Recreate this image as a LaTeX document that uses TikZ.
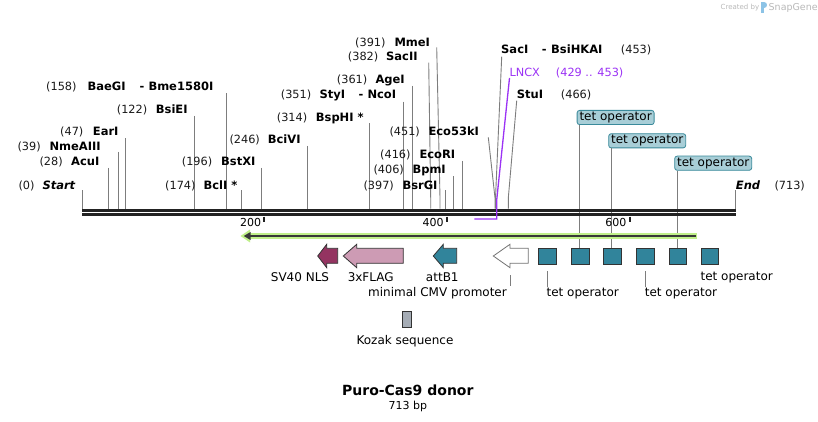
\documentclass[tikz,border=0pt]{standalone}
\usepackage{fontspec}
\setmainfont{DejaVu Sans}
\usetikzlibrary{arrows.meta}
\definecolor{tealf}{RGB}{49,132,155}
\definecolor{nlsf}{RGB}{148,52,97}
\definecolor{flagf}{RGB}{205,155,180}
\definecolor{kozf}{RGB}{165,172,181}
\definecolor{tetbox}{RGB}{168,206,215}
\definecolor{tetedge}{RGB}{58,138,155}
\definecolor{leadc}{RGB}{125,125,125}
\definecolor{bbc}{RGB}{34,34,34}
\definecolor{lgreen}{RGB}{192,240,138}
\definecolor{purp}{RGB}{155,50,245}
\definecolor{logog}{RGB}{185,185,185}
\definecolor{logob}{RGB}{140,195,230}
\newcommand\cutsite[3]{\coordinate (#1t) at (#2,#3); \coordinate (#1b) at (#2,208.7); \draw[lead] (#1t) -- (#1b);}
\newcommand\bentsite[5]{\coordinate (#1t) at (#2,#3); \coordinate (#1m) at (#4,#5); \coordinate (#1b) at (#4,208.7); \draw[lead] (#1t) -- (#1m) -- (#1b);}
\begin{document}
\begin{tikzpicture}[x=1pt,y=-1pt,
  enz/.style={font=\fontsize{11.5}{13}\selectfont\bfseries, inner sep=0, anchor=base west},
  num/.style={font=\fontsize{11.3}{13}\selectfont, inner sep=0, anchor=base west, text=black!90},
  flab/.style={font=\fontsize{12}{14}\selectfont, inner sep=0, anchor=center},
  lead/.style={draw=leadc, line width=0.9},
  featedge/.style={draw=black!80, line width=0.8},
  tetlab/.style={draw=tetedge, fill=tetbox, rounded corners=2.5, line width=0.8, font=\fontsize{12}{14}\selectfont, inner sep=0, minimum height=14.2, minimum width=77, anchor=north west},
  tick/.style={draw=bbc, line width=2},
  ticklab/.style={font=\fontsize{11}{13}\selectfont, inner sep=0, anchor=east},
  sq/.style={draw=black!80, fill=tealf, line width=0.8}
]
\path[use as bounding box, fill=white] (0,0) rectangle (818,422);

% watermark
\node[inner sep=0, anchor=west, text=logog, font=\fontsize{7}{8}\selectfont] (created) at (720.5,7.5) {Created by};
\fill[logob] (760.5,2.5) rectangle (763.5,13);
\fill[logob] (763.5,2.5) .. controls (767.5,2.5) and (767.5,8.5) .. (763.5,8.5) -- cycle;
\node[inner sep=0, anchor=west, text=logog, font=\fontsize{9.5}{10}\selectfont] (snapgene) at (768.5,7.5) {SnapGene};

% tet operator label boxes
\node[tetlab] (tetA) at (576.7,110) {tet operator};
\node[tetlab] (tetB) at (608.3,133.3) {tet operator};
\node[tetlab] (tetC) at (674.3,155.7) {tet operator};

% feature squares
\path[sq] (538.3,248.3) rectangle (556.7,264.3) coordinate (sq1);
\path[sq] (571.7,248.3) rectangle (589.3,264.3) coordinate (sq2);
\path[sq] (603.3,248.3) rectangle (621.7,264.3) coordinate (sq3);
\path[sq] (636.7,248.3) rectangle (654.3,264.3) coordinate (sq4);
\path[sq] (669.3,248.3) rectangle (686.7,264.3) coordinate (sq5);
\path[sq] (701,248.3) rectangle (718.3,264.3) coordinate (sq6);
\coordinate (sq2t) at (579.3,248.3);
\coordinate (sq3t) at (611.7,248.3);
\coordinate (sq5t) at (677.7,248.3);
\draw[lead] (tetA.south west -| sq2t) -- (sq2t);
\draw[lead] (tetB.south west -| sq3t) -- (sq3t);
\draw[lead] (tetC.south west -| sq5t) -- (sq5t);

% cut site leaders
\cutsite{start}{82.3}{190}
\cutsite{acui}{108.7}{168}
\cutsite{nme}{118.3}{152}
\cutsite{eari}{125.3}{138.3}
\cutsite{bsiei}{194.3}{116}
\cutsite{baegi}{226.7}{93.3}
\cutsite{bcli}{241.3}{190}
\cutsite{bstxi}{261.3}{168}
\cutsite{bcivi}{307.3}{146}
\cutsite{bsphi}{369.3}{123.3}
\cutsite{styi}{403.7}{101.7}
\cutsite{agei}{412.7}{86}
\bentsite{sacii}{428.7}{62.7}{430.7}{198}
\bentsite{mmei}{436.7}{47.3}{440}{198}
\cutsite{bsrgi}{445.5}{190}
\cutsite{bpmi}{453.3}{176}
\cutsite{ecori}{462.3}{161}
\bentsite{eco}{488.3}{137.3}{495}{198}
\bentsite{saci}{501.7}{56.7}{495.5}{198}
\bentsite{stui}{516.7}{100.7}{508.3}{198}
\cutsite{end}{735.7}{190}

% backbone
\draw[bbc, line width=3] (82.3,210.2) coordinate (bbL) -- (735.7,210.2) coordinate (bbR);
\draw[bbc, line width=3] (82.3,214.5) -- (735.7,214.5);

% LNCX feature
\coordinate (lncxt) at (509.5,78);
\coordinate (lncxm) at (496.7,200);
\coordinate (lncxc) at (496.7,219);
\coordinate (lncxe) at (474.3,219);
\draw[purp, line width=1.3] (lncxt) -- (lncxm) -- (lncxc) -- (lncxe);

% ticks
\draw[tick] (263.7,216.5) -- (263.7,222.3);
\node[ticklab] (t200) at (261.2,222) {200};
\draw[tick] (447,216.5) -- (447,222.3);
\node[ticklab] (t400) at (443.8,222) {400};
\draw[tick] (630,216.5) -- (630,222.3);
\node[ticklab] (t600) at (626.5,222) {600};

% green ORF arrow
\draw[lgreen, line width=5.5] (697.3,236) -- (247,236);
\fill[lgreen] (240.5,236) -- (250,229.5) -- (250,242.5) -- cycle;
\draw[bbc!90, line width=2] (695.7,236) -- (248,236);
\fill[bbc!90] (243.8,236) -- (250.5,232) -- (250.5,240) -- cycle;

% feature arrows
\draw[featedge, fill=nlsf] (317.7,256) -- (326.7,244.3) -- (326.7,248.3) -- (337.7,248.3) -- (337.7,263.3) -- (326.7,263.3) -- (326.7,267.7) -- cycle;
\draw[featedge, fill=flagf] (343.3,256) -- (356.7,244.3) -- (356.7,248.3) -- (403.3,248.3) -- (403.3,263.3) -- (356.7,263.3) -- (356.7,267.7) -- cycle;
\draw[featedge, fill=tealf] (433.3,256) -- (443.3,244.3) -- (443.3,248.3) -- (456.7,248.3) -- (456.7,263.3) -- (443.3,263.3) -- (443.3,267.7) -- cycle;
\draw[draw=black!55, line width=0.8, fill=white] (493.3,256) -- (510,244.3) -- (510,248.3) -- (528.3,248.3) -- (528.3,263.3) -- (510,263.3) -- (510,267.7) -- cycle;
\draw[featedge, fill=kozf] (402.3,311.7) rectangle (411.7,327.3);

% feature labels
\node[flab] (lnls) at (300,277.3) {SV40 NLS};
\node[flab] (lflag) at (370.7,277.3) {3xFLAG};
\node[flab] (latt) at (442.3,277.3) {attB1};
\node[flab] (lcmv) at (437.5,293.5) {minimal CMV promoter};
\node[flab] (ltet1) at (582.7,294) {tet operator};
\node[flab] (ltet4) at (681,294) {tet operator};
\node[flab] (ltet6) at (736.7,277.3) {tet operator};
\node[flab] (lkoz) at (405,341) {Kozak sequence};
\coordinate (cmvb) at (510,275); \coordinate (cmvl) at (510,285.7);
\draw[lead] (cmvb) -- (cmvl);
\coordinate (t1b) at (547.7,271); \coordinate (t1l) at (547.7,286.7);
\draw[lead] (t1b) -- (t1l);
\coordinate (t4b) at (645.7,271); \coordinate (t4l) at (645.7,286.7);
\draw[lead] (t4b) -- (t4l);

% title
\node[inner sep=0, font=\fontsize{14}{16}\selectfont\bfseries] (title) at (407.8,390.7) {Puro-Cas9 donor};
\node[inner sep=0, font=\fontsize{11}{13}\selectfont] (bp) at (407.8,406) {713 bp};

% enzyme labels
\node[num] (n0) at (18.3,189) {(0)};
\node[enz, font=\fontsize{11.5}{13}\selectfont\bfseries\itshape] (e0) at (42.3,189) {Start};
\node[num] (n174) at (165,189) {(174)};
\node[enz] (e174) at (203.3,189) {BclI *};
\node[num] (n397) at (363.3,189) {(397)};
\node[enz] (e397) at (402.3,189) {BsrGI};
\node[enz, font=\fontsize{11.5}{13}\selectfont\bfseries\itshape] (e713) at (735.7,189) {End};
\node[num] (n713) at (774.3,189) {(713)};

\node[num] (n28) at (39.3,165.7) {(28)};
\node[enz] (e28) at (71,165.7) {AcuI};
\node[num] (n196) at (181.7,165.7) {(196)};
\node[enz] (e196) at (221,165.7) {BstXI};

\node[num] (n39) at (17.3,150.7) {(39)};
\node[enz] (e39) at (49.3,150.7) {NmeAIII};
\node[num] (n246) at (229.3,144) {(246)};
\node[enz] (e246) at (267.7,144) {BciVI};
\node[num] (n47) at (60,135.7) {(47)};
\node[enz] (e47) at (92.7,135.7) {EarI};
\node[num] (n451) at (389.3,135.7) {(451)};
\node[enz] (e451) at (428.3,135.7) {Eco53kI};
\node[num] (n122) at (116.7,114) {(122)};
\node[enz] (e122) at (155.7,114) {BsiEI};
\node[num] (n314) at (276.7,121.3) {(314)};
\node[enz] (e314) at (315.7,121.3) {BspHI *};
\node[num] (n158) at (46,90.7) {(158)};
\node[enz] (e158) at (87.3,90.7) {BaeGI};
\node[enz] (d158) at (139.3,90.7) {-};
\node[enz] (e158b) at (148.3,90.7) {Bme1580I};
\node[num] (n351) at (280.7,99) {(351)};
\node[enz] (e351) at (319.3,99) {StyI};
\node[enz] (d351) at (358.3,99) {-};
\node[enz] (e351b) at (367.3,99) {NcoI};
\node[enz] (e466) at (516.7,99) {StuI};
\node[num] (n466) at (560.7,99) {(466)};
\node[num] (n361) at (336.7,84) {(361)};
\node[enz] (e361) at (375.3,84) {AgeI};
\node[num] (n382) at (347.7,60.7) {(382)};
\node[enz] (e382) at (386,60.7) {SacII};
\node[num] (n391) at (355,46.3) {(391)};
\node[enz] (e391) at (394.3,46.3) {MmeI};
\node[enz] (e453) at (501,54) {SacI};
\node[enz] (d453) at (541.7,54) {-};
\node[enz] (e453b) at (551,54) {BsiHKAI};
\node[num] (n453) at (620.7,54) {(453)};
\node[num, text=purp] (lncx) at (509.3,76.3) {LNCX};
\node[num, text=purp] (lncxn) at (555.7,76.3) {(429 .. 453)};
\node[num] (n416) at (380,159) {(416)};
\node[enz] (e416) at (419.3,159) {EcoRI};
\node[num] (n406) at (373.3,174) {(406)};
\node[enz] (e406) at (412.3,174) {BpmI};
\end{tikzpicture}
\end{document}
